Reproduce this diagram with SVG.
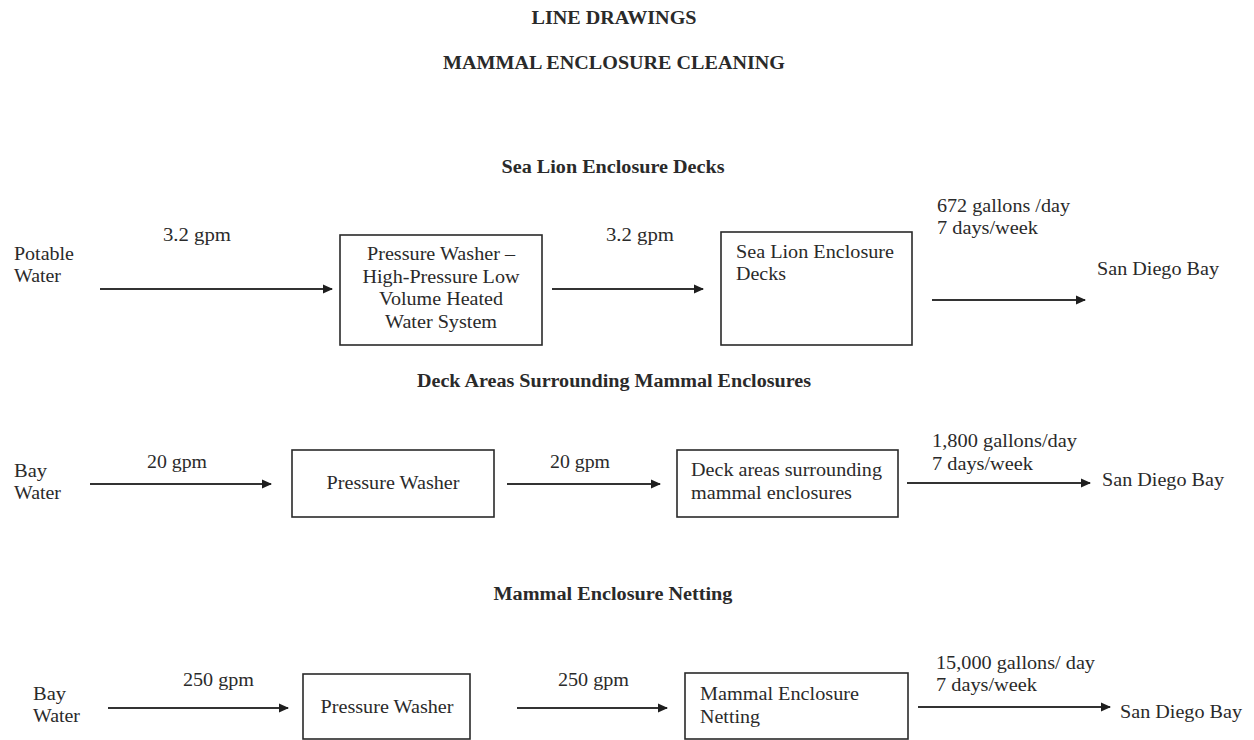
<svg xmlns="http://www.w3.org/2000/svg" width="1254" height="740" viewBox="0 0 1254 740">
  <style>
    text { font-family: "Liberation Serif", "Times New Roman", serif; font-size: 18px; fill: #2a2a2a; }
    .hd { font-weight: bold; text-anchor: middle; }
    .mid { text-anchor: middle; }
    .box { fill: #ffffff; stroke: #2a2a2a; stroke-width: 1.6; }
    .flow { stroke: #333333; stroke-width: 2; fill: none; marker-end: url(#tip); }
  </style>
  <defs>
    <marker id="tip" viewBox="0 0 10 10" refX="9" refY="5" markerWidth="10" markerHeight="10" markerUnits="userSpaceOnUse" orient="auto">
      <path d="M0,0.5 L10,5 L0,9.5 Z" fill="#1e1e1e"/>
    </marker>
  </defs>
  <rect width="1254" height="740" fill="#ffffff"/>

  <!-- headings -->
  <g id="headings">
    <text class="hd" x="614" y="24" textLength="165" lengthAdjust="spacingAndGlyphs">LINE DRAWINGS</text>
    <text class="hd" x="614" y="69" textLength="342" lengthAdjust="spacingAndGlyphs">MAMMAL ENCLOSURE CLEANING</text>
    <text class="hd" x="613" y="173" textLength="223" lengthAdjust="spacingAndGlyphs">Sea Lion Enclosure Decks</text>
    <text class="hd" x="614" y="387" textLength="394" lengthAdjust="spacingAndGlyphs">Deck Areas Surrounding Mammal Enclosures</text>
    <text class="hd" x="613" y="600" textLength="239" lengthAdjust="spacingAndGlyphs">Mammal Enclosure Netting</text>
  </g>

  <!-- row 1: sea lion enclosure decks -->
  <g id="potable-water">
    <text x="14" y="260" textLength="60" lengthAdjust="spacingAndGlyphs">Potable</text>
    <text x="14" y="282" textLength="47" lengthAdjust="spacingAndGlyphs">Water</text>
  </g>
  <g id="pressure-washer-heated">
    <rect class="box" x="340" y="235" width="202" height="110"/>
    <text class="mid" x="441" y="260" textLength="148" lengthAdjust="spacingAndGlyphs">Pressure Washer –</text>
    <text class="mid" x="441" y="283" textLength="157" lengthAdjust="spacingAndGlyphs">High-Pressure Low</text>
    <text class="mid" x="441" y="305" textLength="124" lengthAdjust="spacingAndGlyphs">Volume Heated</text>
    <text class="mid" x="441" y="328" textLength="112" lengthAdjust="spacingAndGlyphs">Water System</text>
  </g>
  <g id="sea-lion-decks">
    <rect class="box" x="721" y="232" width="191" height="113"/>
    <text x="736" y="258" textLength="158" lengthAdjust="spacingAndGlyphs">Sea Lion Enclosure</text>
    <text x="736" y="280" textLength="50" lengthAdjust="spacingAndGlyphs">Decks</text>
  </g>
  <g id="bay-out-1">
    <text x="1097" y="275" textLength="122" lengthAdjust="spacingAndGlyphs">San Diego Bay</text>
  </g>

  <!-- row 2: deck areas -->
  <g id="bay-water-2">
    <text x="14" y="477" textLength="33" lengthAdjust="spacingAndGlyphs">Bay</text>
    <text x="14" y="499" textLength="47" lengthAdjust="spacingAndGlyphs">Water</text>
  </g>
  <g id="pressure-washer-2">
    <rect class="box" x="292" y="450" width="202" height="67"/>
    <text class="mid" x="393" y="489" textLength="133" lengthAdjust="spacingAndGlyphs">Pressure Washer</text>
  </g>
  <g id="deck-areas">
    <rect class="box" x="677" y="450" width="221" height="67"/>
    <text x="691" y="476" textLength="191" lengthAdjust="spacingAndGlyphs">Deck areas surrounding</text>
    <text x="691" y="499" textLength="161" lengthAdjust="spacingAndGlyphs">mammal enclosures</text>
  </g>
  <g id="bay-out-2">
    <text x="1102" y="486" textLength="122" lengthAdjust="spacingAndGlyphs">San Diego Bay</text>
  </g>

  <!-- row 3: netting -->
  <g id="bay-water-3">
    <text x="33" y="700" textLength="33" lengthAdjust="spacingAndGlyphs">Bay</text>
    <text x="33" y="722" textLength="47" lengthAdjust="spacingAndGlyphs">Water</text>
  </g>
  <g id="pressure-washer-3">
    <rect class="box" x="303" y="674" width="167" height="65"/>
    <text class="mid" x="387" y="713" textLength="133" lengthAdjust="spacingAndGlyphs">Pressure Washer</text>
  </g>
  <g id="netting">
    <rect class="box" x="685" y="673" width="223" height="66"/>
    <text x="700" y="700" textLength="159" lengthAdjust="spacingAndGlyphs">Mammal Enclosure</text>
    <text x="700" y="723" textLength="60" lengthAdjust="spacingAndGlyphs">Netting</text>
  </g>
  <g id="bay-out-3">
    <text x="1120" y="718" textLength="122" lengthAdjust="spacingAndGlyphs">San Diego Bay</text>
  </g>

  <!-- connectors with their flow labels -->
  <g id="connectors">
    <line class="flow" x1="100" y1="289" x2="332" y2="289"/>
    <line class="flow" x1="552" y1="289" x2="703" y2="289"/>
    <line class="flow" x1="932" y1="300" x2="1085" y2="300"/>
    <line class="flow" x1="90" y1="484" x2="271" y2="484"/>
    <line class="flow" x1="507" y1="484" x2="660" y2="484"/>
    <line class="flow" x1="907" y1="483" x2="1090" y2="483"/>
    <line class="flow" x1="108" y1="708" x2="288" y2="708"/>
    <line class="flow" x1="517" y1="708" x2="667" y2="708"/>
    <line class="flow" x1="918" y1="707" x2="1110" y2="707"/>

    <text x="163" y="241" textLength="68" lengthAdjust="spacingAndGlyphs">3.2 gpm</text>
    <text x="606" y="241" textLength="68" lengthAdjust="spacingAndGlyphs">3.2 gpm</text>
    <text x="937" y="212" textLength="133" lengthAdjust="spacingAndGlyphs">672 gallons /day</text>
    <text x="937" y="234" textLength="101" lengthAdjust="spacingAndGlyphs">7 days/week</text>

    <text x="147" y="468" textLength="60" lengthAdjust="spacingAndGlyphs">20 gpm</text>
    <text x="550" y="468" textLength="60" lengthAdjust="spacingAndGlyphs">20 gpm</text>
    <text x="932" y="447" textLength="145" lengthAdjust="spacingAndGlyphs">1,800 gallons/day</text>
    <text x="932" y="470" textLength="101" lengthAdjust="spacingAndGlyphs">7 days/week</text>

    <text x="183" y="686" textLength="71" lengthAdjust="spacingAndGlyphs">250 gpm</text>
    <text x="558" y="686" textLength="71" lengthAdjust="spacingAndGlyphs">250 gpm</text>
    <text x="936" y="669" textLength="159" lengthAdjust="spacingAndGlyphs">15,000 gallons/ day</text>
    <text x="936" y="691" textLength="101" lengthAdjust="spacingAndGlyphs">7 days/week</text>
  </g>
</svg>
